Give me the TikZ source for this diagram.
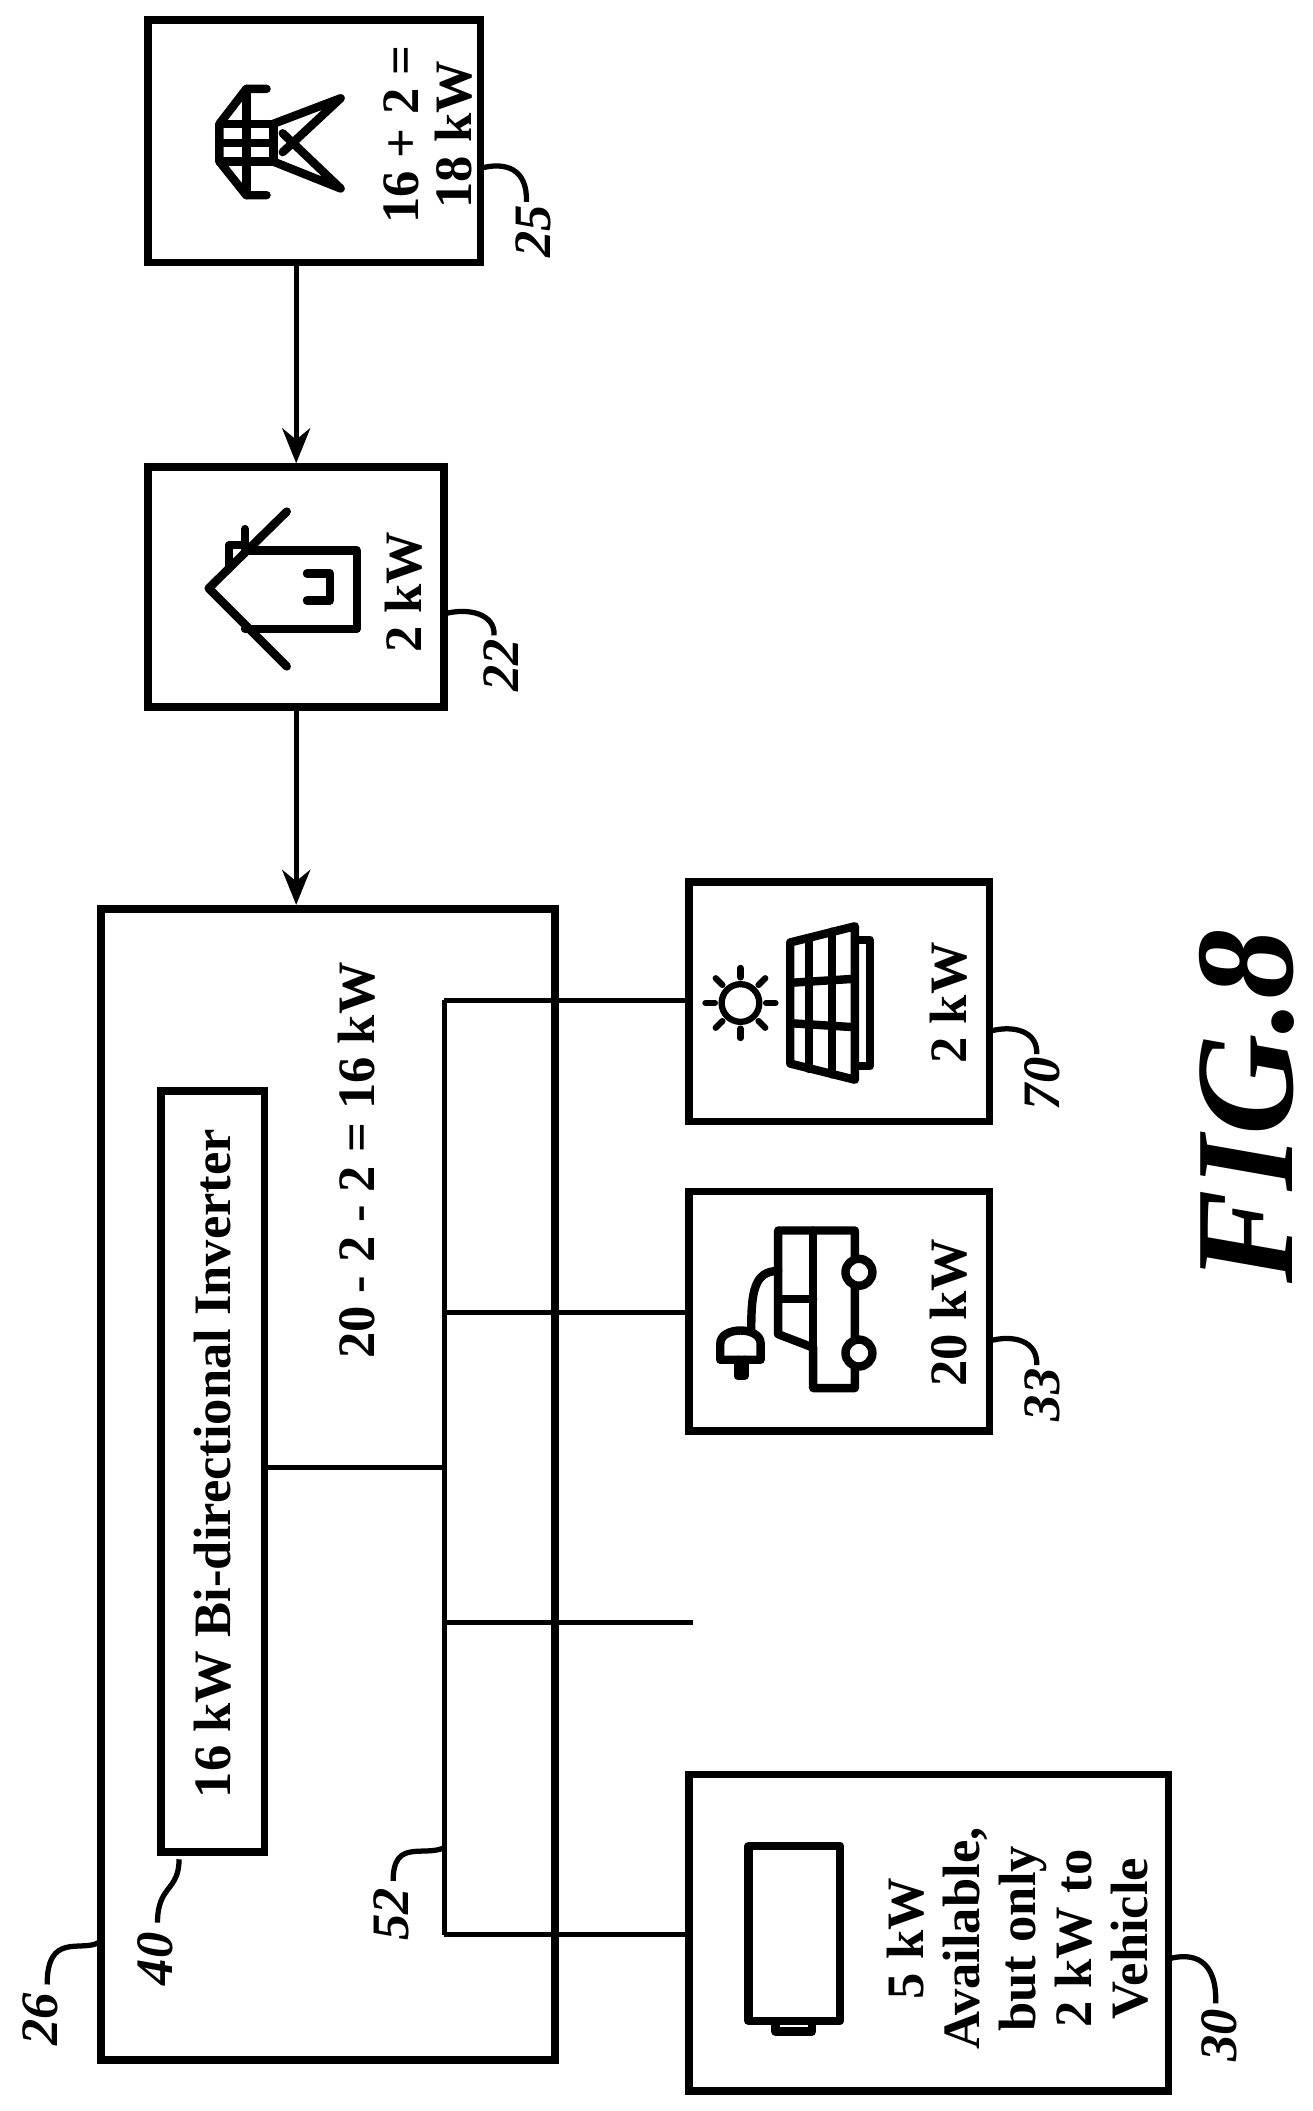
\documentclass[tikz,border=0pt]{standalone}
\usepackage{fontspec}
\setmainfont{Liberation Serif}
\usetikzlibrary{arrows.meta,calc}

\tikzset{
  blk/.style 2 args={draw,line width=2.2pt,minimum width=#1*0.0135cm,minimum height=#2*0.0135cm,inner sep=0pt},
  txt/.style={rotate=90,font=\bfseries\fontsize{15}{15}\selectfont,align=center},
  ref/.style={rotate=90,font=\bfseries\itshape\fontsize{15}{15}\selectfont},
  wire/.style={line width=1.5pt},
  icon/.style={line width=2.4pt,line cap=round,line join=round},
}

\begin{document}
\begin{tikzpicture}[x=0.0135cm,y=-0.0135cm]
\useasboundingbox (0,0) rectangle (975,1568);
% boxes
\node[blk={247}{180}] (grid) at (233.5,105) {};
\node[blk={220}{178}] (home) at (220,436) {};
\node[blk={337}{855}] (conv) at (243.5,1102.5) {};
\node[blk={77}{565}] (inv) at (158,1093) {};
\node[blk={223}{178}] (solar) at (623.5,744) {};
\node[blk={223}{178}] (ev) at (623.5,974) {};
\node[blk={356}{235}] (batt) at (690,1435.5) {};
% texts
\node[txt] (t25) at (318,100) {16 + 2 =\\18 kW};
\node[txt] (t22) at (300,440) {2 kW};
\node[txt] (t40) at (158,1087) {16 kW Bi-directional Inverter};
\node[txt] (t26) at (265,862) {20 - 2 - 2 = 16 kW};
\node[txt] (t70) at (705,745) {2 kW};
\node[txt] (t33) at (705,975) {20 kW};
\node[txt,font=\bfseries\fontsize{15}{16}\selectfont] (t30) at (756,1440) {5 kW\\Available,\\but only\\2 kW to\\Vehicle};
\node[rotate=90,font=\bfseries\itshape\fontsize{40}{40}\selectfont] (fig) at (926,822) {FIG.8};
% arrows
\draw[wire,-{Stealth[length=10pt,width=8pt]}] (grid.south -| home.north) -- (home.north);
\draw[wire,-{Stealth[length=10pt,width=8pt]}] (home.south) -- (home.south |- conv.north);
% bus
\coordinate (b1) at (330,743);
\coordinate (b2) at (330,975);
\coordinate (b3) at (330,1090);
\coordinate (b4) at (330,1205);
\coordinate (b5) at (330,1437);
\coordinate (spare) at (515,1205);
\draw[wire] (b1) -- (b5);
\draw[wire] (b1) -- (b1 -| solar.west);
\draw[wire] (b2) -- (b2 -| ev.west);
\draw[wire] (inv.east |- b3) -- (b3);
\draw[wire] (b4) -- (spare);
\draw[wire] (b5) -- (b5 -| batt.west);
% reference numerals
\node[ref] (r25) at (396,172) {25};
\draw[wire] (357,125) .. controls (375,120) and (392,125) .. (391,150);
\node[ref] (r22) at (372,494) {22};
\draw[wire] (330,456) .. controls (348,451) and (368,456) .. (367,472);
\node[ref] (r70) at (774,805) {70};
\draw[wire] (735,766) .. controls (753,761) and (771,766) .. (770,783);
\node[ref] (r33) at (774,1036) {33};
\draw[wire] (735,996) .. controls (753,991) and (771,996) .. (770,1014);
\node[ref] (r30) at (906,1512) {30};
\draw[wire] (868,1455) .. controls (886,1450) and (904,1455) .. (903,1488);
\node[ref] (r26) at (30,1500) {26};
\draw[wire] (73,1443) .. controls (60,1450) and (35,1435) .. (35,1474);
\node[ref] (r40) at (115,1455) {40};
\draw[wire] (133,1381) .. controls (133,1405) and (117,1400) .. (117,1428);
\node[ref] (r52) at (291,1422) {52};
\draw[wire] (331,1372) .. controls (315,1380) and (292,1365) .. (292,1397);
% tower icon
\draw[icon] (198,66) -- (183,66) -- (163,92) -- (163,120) -- (183,145) -- (198,145);
\draw[icon] (183,66) -- (183,145) (163,106) -- (203,106) (163,92) -- (203,92) -- (203,120) -- (163,120);
\draw[icon] (203,92) -- (253,73) (203,120) -- (253,140) (210,99) -- (253,140) (210,113) -- (253,73);
% house icon
\draw[icon] (213,380) -- (155,437) -- (213,495);
\draw[icon] (170,422) -- (170,405) -- (182,405) -- (182,393);
\draw[icon] (182,409) -- (265,409) -- (265,467) -- (182,467);
\draw[icon] (228,426) -- (245,426) -- (245,446) -- (228,446);
% solar icon
\draw[icon,line width=1.8pt] (550,745) circle (14);
\foreach \a in {0,45,...,315}
  \draw[icon,line width=1.8pt] ($(550,745)+(\a:19)$) -- ($(550,745)+(\a:26)$);
\draw[icon] (587,700) -- (635,688) -- (635,802) -- (587,790) -- cycle;
\draw[icon] (601,697) -- (601,794) (618,692) -- (618,798);
\draw[icon] (587,730) -- (635,727) (587,760) -- (635,763);
\draw[icon] (635,698) -- (646,698) -- (646,792) -- (635,792);
% car icon
\draw[icon] (578,914) -- (635,914) -- (635,1031) -- (604,1031) -- (604,1001) -- (578,991) -- cycle;
\draw[icon] (604,914) -- (604,1001) (578,965) -- (604,965);
\draw[icon,fill=white] (638,945) circle (10);
\draw[icon,fill=white] (638,1005) circle (10);
\draw[icon] (578,944) .. controls (560,944) and (558,960) .. (558,988);
\draw[icon] (535,1010) -- (535,998) .. controls (535,985) and (565,985) .. (565,998) -- (565,1010) -- cycle;
\draw[icon] (548,1010) -- (548,1022) -- (553,1022) -- (553,1010);
% battery icon
\draw[icon] (556,1371) rectangle (624,1501);
\draw[icon] (576,1501) rectangle (603,1509);
\end{tikzpicture}
\end{document}
